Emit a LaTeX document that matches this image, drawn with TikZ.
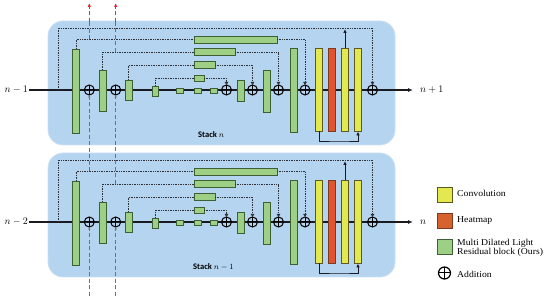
\documentclass[tikz,border=0pt]{standalone}
\usepackage{fontspec}
\setmainfont{Liberation Serif}
\newfontfamily\legfont{Liberation Serif}[FakeStretch=1.08]
\newfontfamily\stackfont{Carlito}
\usetikzlibrary{arrows.meta}
\definecolor{stackc}{HTML}{B4D4EF}
\definecolor{gfill}{HTML}{9DCF84}
\definecolor{gdraw}{HTML}{3E5F34}
\definecolor{yfill}{HTML}{E3E84E}
\definecolor{ydraw}{HTML}{5A5A22}
\definecolor{rfill}{HTML}{E4532C}
\definecolor{rdraw}{HTML}{7A3A20}
\definecolor{hmfill}{HTML}{D6632D}
\definecolor{mainc}{HTML}{1A1A22}
\definecolor{dotc}{HTML}{2E3238}
\definecolor{brownc}{HTML}{8C6A4C}
\definecolor{redc}{HTML}{E8282A}

\newcommand\drawstack[6]{%
\begin{scope}[yshift=-#2pt]
 \node[stackbox, minimum width=347pt, minimum height=124pt] (#1bg) at (221.5,83) {};
 \node[lbl, anchor=east] (#1in) at (29,90) {#3};
 \node[lbl, anchor=west] (#1out) at (419,90) {#4};
 \coordinate (#1end) at (413,90);
 \draw[mainline, -{Latex[length=5pt,width=4pt]}] (#1in.east) -- (#1end);
 % blocks on the main line
 \node[gblk, minimum width=6.5pt, minimum height=84pt] (#1b1) at (76,91) {};
 \node[gblk, minimum width=7pt, minimum height=41pt] (#1b2) at (102.5,90.5) {};
 \node[gblk, minimum width=7pt, minimum height=20pt] (#1b3) at (128.5,90) {};
 \node[gblk, minimum width=6pt, minimum height=10pt] (#1b4) at (155,91) {};
 \node[gblk, minimum width=7pt, minimum height=5pt] (#1b5) at (179.5,90.5) {};
 \node[gblk, minimum width=7pt, minimum height=5pt] (#1b6) at (197.5,90.5) {};
 \node[gblk, minimum width=7pt, minimum height=5pt] (#1b7) at (213.5,90.5) {};
 % horizontal blocks
 \node[gblk, minimum width=83pt, minimum height=7pt] (#1h1) at (235.5,39.5) {};
 \node[gblk, minimum width=41pt, minimum height=6.5pt] (#1h2) at (214.5,52) {};
 \node[gblk, minimum width=21pt, minimum height=6.5pt] (#1h3) at (204.5,65) {};
 \node[gblk, minimum width=10pt, minimum height=6.5pt] (#1h4) at (199,78.5) {};
 % vertical blocks between additions
 \node[gblk, minimum width=7pt, minimum height=21pt] (#1v1) at (240.5,90.5) {};
 \node[gblk, minimum width=7.5pt, minimum height=42pt] (#1v2) at (267,91) {};
 \node[gblk, minimum width=7pt, minimum height=84pt] (#1v3) at (293.5,90) {};
 % head
 \node[yblk, minimum width=7pt, minimum height=83pt] (#1y1) at (319,90) {};
 \node[rblk, minimum width=7.5pt, minimum height=83pt] (#1r) at (332,90) {};
 \node[yblk, minimum width=7pt, minimum height=83pt] (#1y2) at (345,90) {};
 \node[yblk, minimum width=7.5pt, minimum height=83pt] (#1y3) at (358,90) {};
 % additions
 \node[addn] (#1a1) at (89.3,90) {};
 \node[addn] (#1a2) at (115.7,90) {};
 \node[addn] (#1a3) at (226.5,90) {};
 \node[addn] (#1a4) at (252.5,90) {};
 \node[addn] (#1a5) at (278.5,90) {};
 \node[addn] (#1a6) at (305,90) {};
 \node[addn] (#1a7) at (372.5,90) {};
 % coordinates
 \coordinate (#1sk) at (58.3,90);
 \coordinate (#1tr) at (372.5,28.3);
 \coordinate (#1ty) at (345,29);
 \coordinate (#1bc) at (340,142);
 \coordinate (#1j1) at (89.3,39.5);
 \coordinate (#1j2) at (115.7,52);
 % dotted connections
 \draw[dotline, -{Triangle[length=3pt,width=3.5pt]}] (#1sk) |- (#1tr) -- (#1a7.north);
 \draw[dotline] (#1b1.north) |- (#1h1.west);
 \draw[dotline] (#1b2.north) |- (#1h2.west);
 \draw[dotline] (#1b3.north) |- (#1h3.west);
 \draw[dotline] (#1b4.north) |- (#1h4.west);
 \draw[dotline, -{Triangle[length=3pt,width=3.5pt]}] (#1h4.east) -| (#1a3.north);
 \draw[dotline, -{Triangle[length=3pt,width=3.5pt]}] (#1h3.east) -| (#1a4.north);
 \draw[dotline, -{Triangle[length=3pt,width=3.5pt]}] (#1h2.east) -| (#1a5.north);
 \draw[dotline, -{Triangle[length=3pt,width=3.5pt]}] (#1h1.east) -| (#1a6.north);
 % head connections
 \draw[headline, -{Latex[length=4pt,width=3.5pt]}] (#1y2.north) -- (#1ty);
 \draw[headline, -{Latex[length=4pt,width=3.5pt]}] (#1y1.south) |- (#1bc) -| (#1y3.south);
 \node[stacklbl, anchor=west] (#1lab) at (#6,135) {#5};
\end{scope}}

\begin{document}
\begin{tikzpicture}[x=1pt,y=-1pt,
  stackbox/.style={rectangle, rounded corners=15pt, fill=stackc, draw=stackc!70!white, line width=0.8pt, inner sep=0},
  gblk/.style={rectangle, draw=gdraw, fill=gfill, line width=0.6pt, inner sep=0, outer sep=0},
  yblk/.style={rectangle, draw=ydraw, fill=yfill, line width=0.6pt, inner sep=0, outer sep=0},
  rblk/.style={rectangle, draw=rdraw, fill=rfill, line width=0.6pt, inner sep=0, outer sep=0},
  addn/.style={circle, draw=black, line width=1pt, minimum size=10pt, inner sep=0, outer sep=0,
     path picture={\draw[line width=1pt] (path picture bounding box.north) -- (path picture bounding box.south)
        (path picture bounding box.west) -- (path picture bounding box.east);}},
  mainline/.style={draw=mainc, line width=1.3pt},
  headline/.style={draw=mainc, line width=1pt},
  dotline/.style={draw=dotc, line width=0.8pt, dash pattern=on 0.8pt off 0.9pt},
  dashln/.style={draw=brownc, line width=1pt, dash pattern=on 4pt off 2.5pt},
  redln/.style={draw=redc, line width=1pt, dash pattern=on 4pt off 2.5pt},
  lbl/.style={inner sep=1pt, font=\fontsize{10}{12}\selectfont},
  stacklbl/.style={inner sep=0, font=\stackfont\bfseries\fontsize{8.5}{10}\selectfont},
  legtxt/.style={inner sep=0, anchor=west, align=left, font=\legfont\fontsize{9}{9.2}\selectfont},
  swatch/.style={rectangle, minimum width=15pt, minimum height=15pt, inner sep=0, line width=0.8pt}
]
\useasboundingbox (0,0) rectangle (550,296);
\drawstack{A}{0}{$n-1$}{$n+1$}{Stack $n$}{198}
\drawstack{B}{132}{$n-2$}{$n$}{Stack $n-1$}{193}

% intermediate supervision (dashed) lines
\coordinate (top1) at (89.3,3);
\coordinate (top2) at (115.7,3);
\coordinate (mid1) at (89.3,22);
\coordinate (mid2) at (115.7,22);
\coordinate (bot1) at (89.3,296);
\coordinate (bot2) at (115.7,296);
\draw[dashln] (Aj1) -- (mid1);
\draw[dashln] (Aj2) -- (mid2);
\draw[redln, -{Latex[length=4pt,width=3.5pt]}] (mid1) -- (top1);
\draw[redln, -{Latex[length=4pt,width=3.5pt]}] (mid2) -- (top2);
\draw[dashln, -{Latex[length=2.5pt,width=2.5pt]}] (Bj1) -- (Aa1.south);
\draw[dashln, -{Latex[length=2.5pt,width=2.5pt]}] (Bj2) -- (Aa2.south);
\draw[dashln, -{Latex[length=2.5pt,width=2.5pt]}] (bot1) -- (Ba1.south);
\draw[dashln, -{Latex[length=2.5pt,width=2.5pt]}] (bot2) -- (Ba2.south);

% legend
\node[swatch, fill=yfill, draw=ydraw] (lconv) at (444.5,194.5) {};
\node[swatch, fill=hmfill, draw=rdraw] (lheat) at (444.5,220.5) {};
\node[swatch, fill=gfill, draw=gdraw] (lmdl) at (444.5,247) {};
\node[addn, minimum size=12pt, line width=1.2pt] (ladd) at (444.5,273) {};
\node[legtxt] (tconv) at (457,193) {Convolution};
\node[legtxt] (theat) at (457,220.5) {Heatmap};
\node[legtxt] (tmdl) at (457,247.5) {Multi Dilated Light\\Residual block (Ours)};
\node[legtxt] (tadd) at (457,274) {Addition};
\end{tikzpicture}
\end{document}
